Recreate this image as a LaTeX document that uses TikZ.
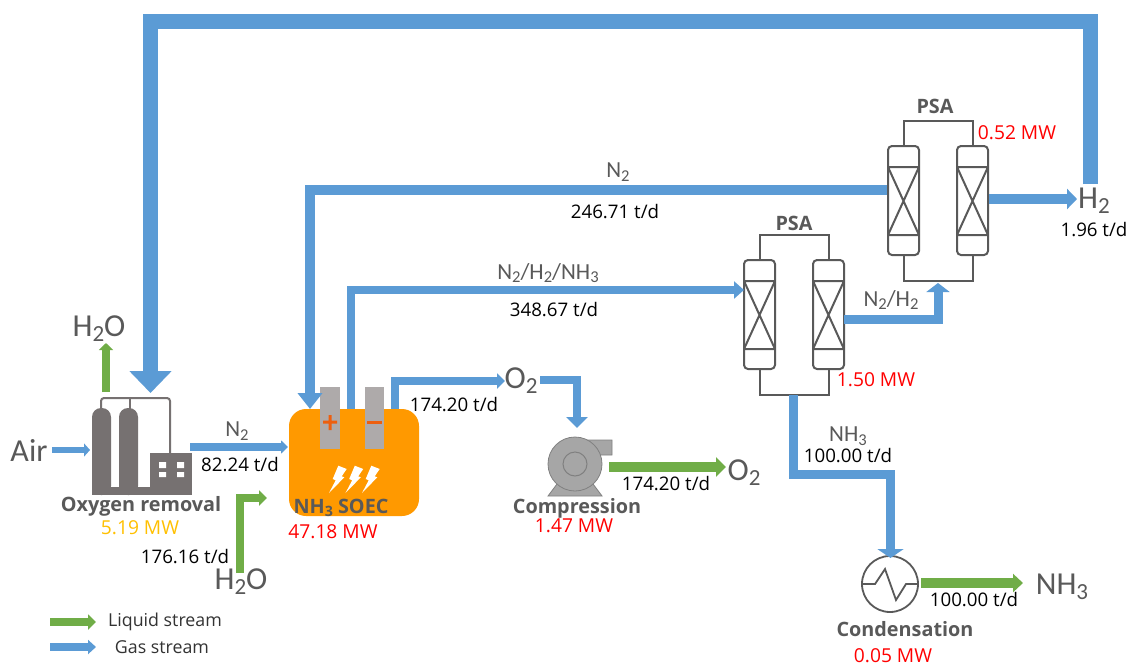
\documentclass[tikz,border=0pt]{standalone}
\usepackage{fontspec}
\usepackage{graphicx}
\setmainfont{Open Sans}
\newfontfamily\lbl{Carlito}
\usetikzlibrary{arrows.meta}
\definecolor{gasblue}{HTML}{5B9BD5}
\definecolor{liqgreen}{HTML}{70AD47}
\definecolor{darkgrey}{HTML}{595959}
\definecolor{midgrey}{HTML}{767171}
\definecolor{pumpgrey}{HTML}{A6A6A6}
\definecolor{elecgrey}{HTML}{AEAAAA}
\definecolor{soec}{HTML}{FF9900}
\definecolor{plusc}{HTML}{ED5F0F}
\definecolor{amber}{HTML}{FFC000}
\tikzset{
 fs/.style n args={4}{draw=#4,line width=#1pt,-{Triangle[length=#2pt,width=#3pt]}},
 gasline/.style n args={3}{fs={#1}{#2}{#3}{gasblue}},
 liqline/.style n args={3}{fs={#1}{#2}{#3}{liqgreen}},
 flowtxt/.style={font=\fontsize{18.7}{22}\selectfont,text=black,inner sep=0pt},
 powtxt/.style={font=\fontsize{19.2}{22}\selectfont,text=red,inner sep=0pt},
 unittxt/.style={font=\fontsize{19.8}{23}\selectfont\bfseries,text=darkgrey,inner sep=0pt},
 big/.style={font=\lbl\fontsize{32}{35}\selectfont,text=darkgrey,inner sep=0pt},
 small/.style={font=\lbl\fontsize{23}{26}\selectfont,text=darkgrey,inner sep=0pt},
 legend/.style={font=\fontsize{17.8}{20}\selectfont,text=black!80,inner sep=0pt},
 vessel/.style={draw=darkgrey,line width=2pt,rounded corners=4pt},
 vpipe/.style={draw=darkgrey,line width=2pt},
}
\newcommand{\sbs}[1]{\raisebox{-0.32ex}{\scalebox{0.72}{#1}}}
\newcommand{\psaunit}[2]{%
 \begin{scope}[shift={(#1,#2)}]
  \draw[vpipe] (15.5,0) -- (15.5,-25) -- (85,-25) -- (85,0);
  \draw[vpipe] (15.5,109) -- (15.5,135) -- (85,135) -- (85,109);
  \foreach \dx in {0,69}{
   \draw[vessel] (\dx,0) rectangle (\dx+31,109);
   \draw[vpipe] (\dx,21) -- (\dx+31,21) (\dx,89) -- (\dx+31,89)
     (\dx,21) -- (\dx+31,89) (\dx+31,21) -- (\dx,89);
  }
 \end{scope}}
\begin{document}
\begin{tikzpicture}[x=1pt,y=-1pt]
\useasboundingbox[fill=white] (0,0) rectangle (1130,667);

% --- equipment: oxygen removal
\fill[midgrey,rounded corners=9pt] (92,495) -- (92,408) -- (111,408) -- (111,495) -- cycle;
\fill[midgrey,rounded corners=9pt] (119,495) -- (119,408) -- (138,408) -- (138,495) -- cycle;
\fill[midgrey] (92,487) rectangle (192,495);
\fill[midgrey] (92,440) rectangle (111,495);
\fill[midgrey] (119,440) rectangle (138,495);
\fill[midgrey] (150,453) rectangle (192,495);
\fill[white] (159,462) rectangle (166,468) (177,462) rectangle (184,468)
             (159,472) rectangle (166,477) (177,472) rectangle (184,477);
\draw[midgrey,line width=2pt,rounded corners=3pt] (101,409) -- (101,398) -- (170,398) -- (170,453);
\draw[midgrey,line width=2pt] (129.5,398) -- (129.5,409);
\coordinate (oxTop) at (150.5,393);
\coordinate (oxAir) at (90,450);

% --- SOEC
\fill[soec,rounded corners=17pt] (289,409) rectangle (419,516);
\fill[elecgrey] (320,387) rectangle (340,449);
\fill[elecgrey] (365,387) rectangle (384,449);
\fill[plusc] (323,420.5) rectangle (337,423.5) (328.5,415) rectangle (331.5,430);
\fill[plusc] (367,420.5) rectangle (382,423.5);
\foreach \bx in {329,345.5,362}{
 \fill[white,shift={(\bx,493)}] (9.3,-27.3) -- (17.7,-24) -- (12.7,-16.7) -- (15.3,-15.7) -- (0,0) -- (6.7,-12.7) -- (3.7,-14) -- cycle;
}

% --- PSA units
\psaunit{888}{146}
\psaunit{744}{260}

% --- pump
\fill[pumpgrey,draw=gray,line width=.8pt] (548,496) -- (560,480) -- (590,480) -- (602,496) -- cycle;
\fill[pumpgrey,draw=gray,line width=.8pt] (575,440) -- (612,440) -- (612,455) -- (590,455) -- (575,464) -- cycle;
\fill[pumpgrey,draw=gray,line width=.8pt] (575,464) circle (27);
\draw[gray,line width=1pt] (575,464) circle (12);

% --- condenser
\draw[darkgrey,line width=1.8pt] (890,584) circle (28);
\draw[darkgrey,line width=1.8pt,line join=miter] (862,584) -- (875,584) -- (885,569) -- (896,600) -- (906,584) -- (918,584);

% --- text labels that are stream ends
\node[big] (h2oTop) at (99,329) {H\sbs{2}O};
\node[big] (air) at (29,450) {Air};
\node[big] (h2oBot) at (241,582) {H\sbs{2}O};
\node[big] (o2a) at (521,381) {O\sbs{2}};
\node[big] (o2b) at (744,473) {O\sbs{2}};
\node[big] (h2) at (1094,201) {H\sbs{2}};
\node[big] (nh3) at (1062,587) {NH\sbs{3}};

% --- named ends
\coordinate (recA) at (1090.5,184);
\coordinate (recB) at (1090.5,21.5);
\coordinate (recC) at (150.5,21.5);
\coordinate (n2a) at (887,190);
\coordinate (n2b) at (310,190);
\coordinate (n2c) at (310,409);
\coordinate (mixA) at (351,409);
\coordinate (mixB) at (351,290);
\coordinate (mixC) at (744,290);
\coordinate (oA) at (394.5,409);
\coordinate (oB) at (394.5,381);
\coordinate (oC) at (505,381);
\coordinate (oD) at (540,380);
\coordinate (oE) at (577,380);
\coordinate (oF) at (577,428);
\coordinate (cpA) at (609,467);
\coordinate (cpB) at (726,467);
\coordinate (naA) at (793,395);
\coordinate (naB) at (793,474);
\coordinate (naC) at (890.5,474);
\coordinate (naD) at (890.5,558);
\coordinate (liqA) at (921,583);
\coordinate (liqB) at (1023,583);
\coordinate (mhA) at (844,319);
\coordinate (mhB) at (938,319);
\coordinate (mhC) at (938,283);
\coordinate (hA) at (989,199);
\coordinate (hB) at (1077,199);
\coordinate (wA) at (239.5,573);
\coordinate (wB) at (239.5,498);
\coordinate (wC) at (267,498);
\coordinate (nA) at (190,447);
\coordinate (nB) at (288,447);
\coordinate (sA) at (106,392);
\coordinate (sB) at (106,343);
\coordinate (aA) at (52,450);
\coordinate (lgA) at (50,622);
\coordinate (lgB) at (96,622);
\coordinate (lgC) at (50,647);
\coordinate (lgD) at (96,647);

% --- connectors
\draw[gasline={14.5}{22}{41}] (recA) -- (recB) -- (recC) -- (oxTop);
\draw[gasline={10}{16}{24}] (n2a) -- (n2b) -- (n2c);
\draw[gasline={8}{10}{17}] (mixA) -- (mixB) -- (mixC);
\draw[gasline={8}{8}{15}] (oA) -- (oB) -- (oC);
\draw[gasline={8}{11}{21}] (oD) -- (oE) -- (oF);
\draw[liqline={10}{10}{19}] (cpA) -- (cpB);
\draw[gasline={9}{9}{26}] (naA) -- (naB) -- (naC) -- (naD);
\draw[liqline={10}{10}{18}] (liqA) -- (liqB);
\draw[gasline={9}{9}{23}] (mhA) -- (mhB) -- (mhC);
\draw[gasline={10}{10}{20}] (hA) -- (hB);
\draw[liqline={8}{8}{15}] (wA) -- (wB) -- (wC);
\draw[gasline={7.5}{7}{13}] (nA) -- (nB);
\draw[liqline={8}{7}{14}] (sA) -- (sB);
\draw[gasline={6.5}{6}{13}] (aA) -- (oxAir);
\draw[liqline={8}{8}{15}] (lgA) -- (lgB);
\draw[gasline={8}{8}{14}] (lgC) -- (lgD);

% --- labels
\node[small] (lN2a) at (237,431) {N\sbs{2}};
\node[flowtxt] (f1) at (240,465) {82.24 t/d};
\node[unittxt] (uOx) at (141,506) {Oxygen removal};
\node[powtxt,text=amber] (pOx) at (140,528) {5.19 MW};
\node[flowtxt] (f2) at (185,557) {176.16 t/d};
\node[unittxt] (uS) at (341,508) {NH\sbs{3} SOEC};
\node[powtxt] (pS) at (333,532) {47.18 MW};
\node[flowtxt] (f3) at (454,405) {174.20 t/d};
\node[unittxt] (uC) at (577,508) {Compression};
\node[powtxt] (pC) at (574,526) {1.47 MW};
\node[flowtxt] (f4) at (666,484) {174.20 t/d};
\node[small] (lN2b) at (618,172) {N\sbs{2}};
\node[flowtxt] (f5) at (615,212) {246.71 t/d};
\node[small] (lMix) at (548,273) {N\sbs{2}/H\sbs{2}/NH\sbs{3}};
\node[flowtxt] (f6) at (554,310) {348.67 t/d};
\node[unittxt] (uP1) at (935,106) {PSA};
\node[unittxt] (uP2) at (794,223) {PSA};
\node[powtxt] (p1) at (1017,133) {0.52 MW};
\node[powtxt] (p2) at (876,380) {1.50 MW};
\node[flowtxt] (f7) at (1094,230) {1.96 t/d};
\node[small] (lNH) at (891,300) {N\sbs{2}/H\sbs{2}};
\node[small] (lNH3) at (848,436) {NH\sbs{3}};
\node[flowtxt] (f8) at (848,456) {100.00 t/d};
\node[unittxt] (uCd) at (905,629) {Condensation};
\node[powtxt] (pCd) at (893,655.5) {0.05 MW};
\node[flowtxt] (f9) at (974,600) {100.00 t/d};
\node[legend] (lg1) at (165,622) {Liquid stream};
\node[legend] (lg2) at (162,647) {Gas stream};
\end{tikzpicture}
\end{document}
